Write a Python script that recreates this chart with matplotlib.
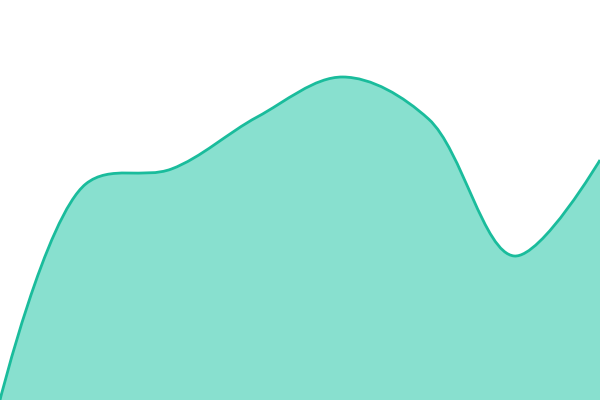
import numpy as np
import matplotlib
matplotlib.use("Agg")
import matplotlib.pyplot as plt
from matplotlib.path import Path
from matplotlib.patches import PathPatch

# series values (0 = bottom edge, 400 = top edge)
points = [0, 1, 2, 3, 4, 5, 6, 7]
values = [0, 216, 231, 283, 323, 281, 144, 240]

LINE = "#1abc9c"
FILL = "#88e0cf"


def catmull_rom(pts, alpha=0.5):
    # centripetal Catmull-Rom as cubic beziers (same maths as d3.curveCatmullRom)
    pts = [np.asarray(p, float) for p in pts]
    ext = [pts[0]] + pts + [pts[-1]]
    verts = [pts[0]]
    codes = [Path.MOVETO]
    for i in range(1, len(ext) - 2):
        p0, p1, p2, p3 = ext[i - 1], ext[i], ext[i + 1], ext[i + 2]
        l01 = np.hypot(*(p1 - p0)) ** alpha
        l12 = np.hypot(*(p2 - p1)) ** alpha
        l23 = np.hypot(*(p3 - p2)) ** alpha
        c1, c2 = p1.copy(), p2.copy()
        if l01 > 1e-12:
            a = 2 * l01**2 + 3 * l01 * l12 + l12**2
            n = 3 * l01 * (l01 + l12)
            c1 = (p1 * a - p0 * l12**2 + p2 * l01**2) / n
        if l23 > 1e-12:
            b = 2 * l23**2 + 3 * l23 * l12 + l12**2
            m = 3 * l23 * (l23 + l12)
            c2 = (p2 * b + p1 * l23**2 - p3 * l12**2) / m
        verts += [c1, c2, p2]
        codes += [Path.CURVE4] * 3
    return verts, codes


fig = plt.figure(figsize=(6, 4), dpi=100)
ax = fig.add_axes([0, 0, 1, 1])
ax.set_xlim(points[0], points[-1])
ax.set_ylim(0, 400)
ax.axis("off")

# build the curve in pixel space so the smoothing matches a screen-space spline
to_px = ax.transData
px = to_px.transform(np.column_stack([points, values]))
verts, codes = catmull_rom(list(px))
verts = to_px.inverted().transform(np.array(verts))

line_path = Path(verts, codes)
fill_verts = np.vstack([verts, [[points[-1], 0], [points[0], 0], verts[0]]])
fill_codes = list(codes) + [Path.LINETO, Path.LINETO, Path.CLOSEPOLY]
ax.add_patch(PathPatch(Path(fill_verts, fill_codes), facecolor=FILL, edgecolor="none"))
ax.add_patch(PathPatch(line_path, facecolor="none", edgecolor=LINE, linewidth=2.0))

fig.savefig("out.png", dpi=100)
